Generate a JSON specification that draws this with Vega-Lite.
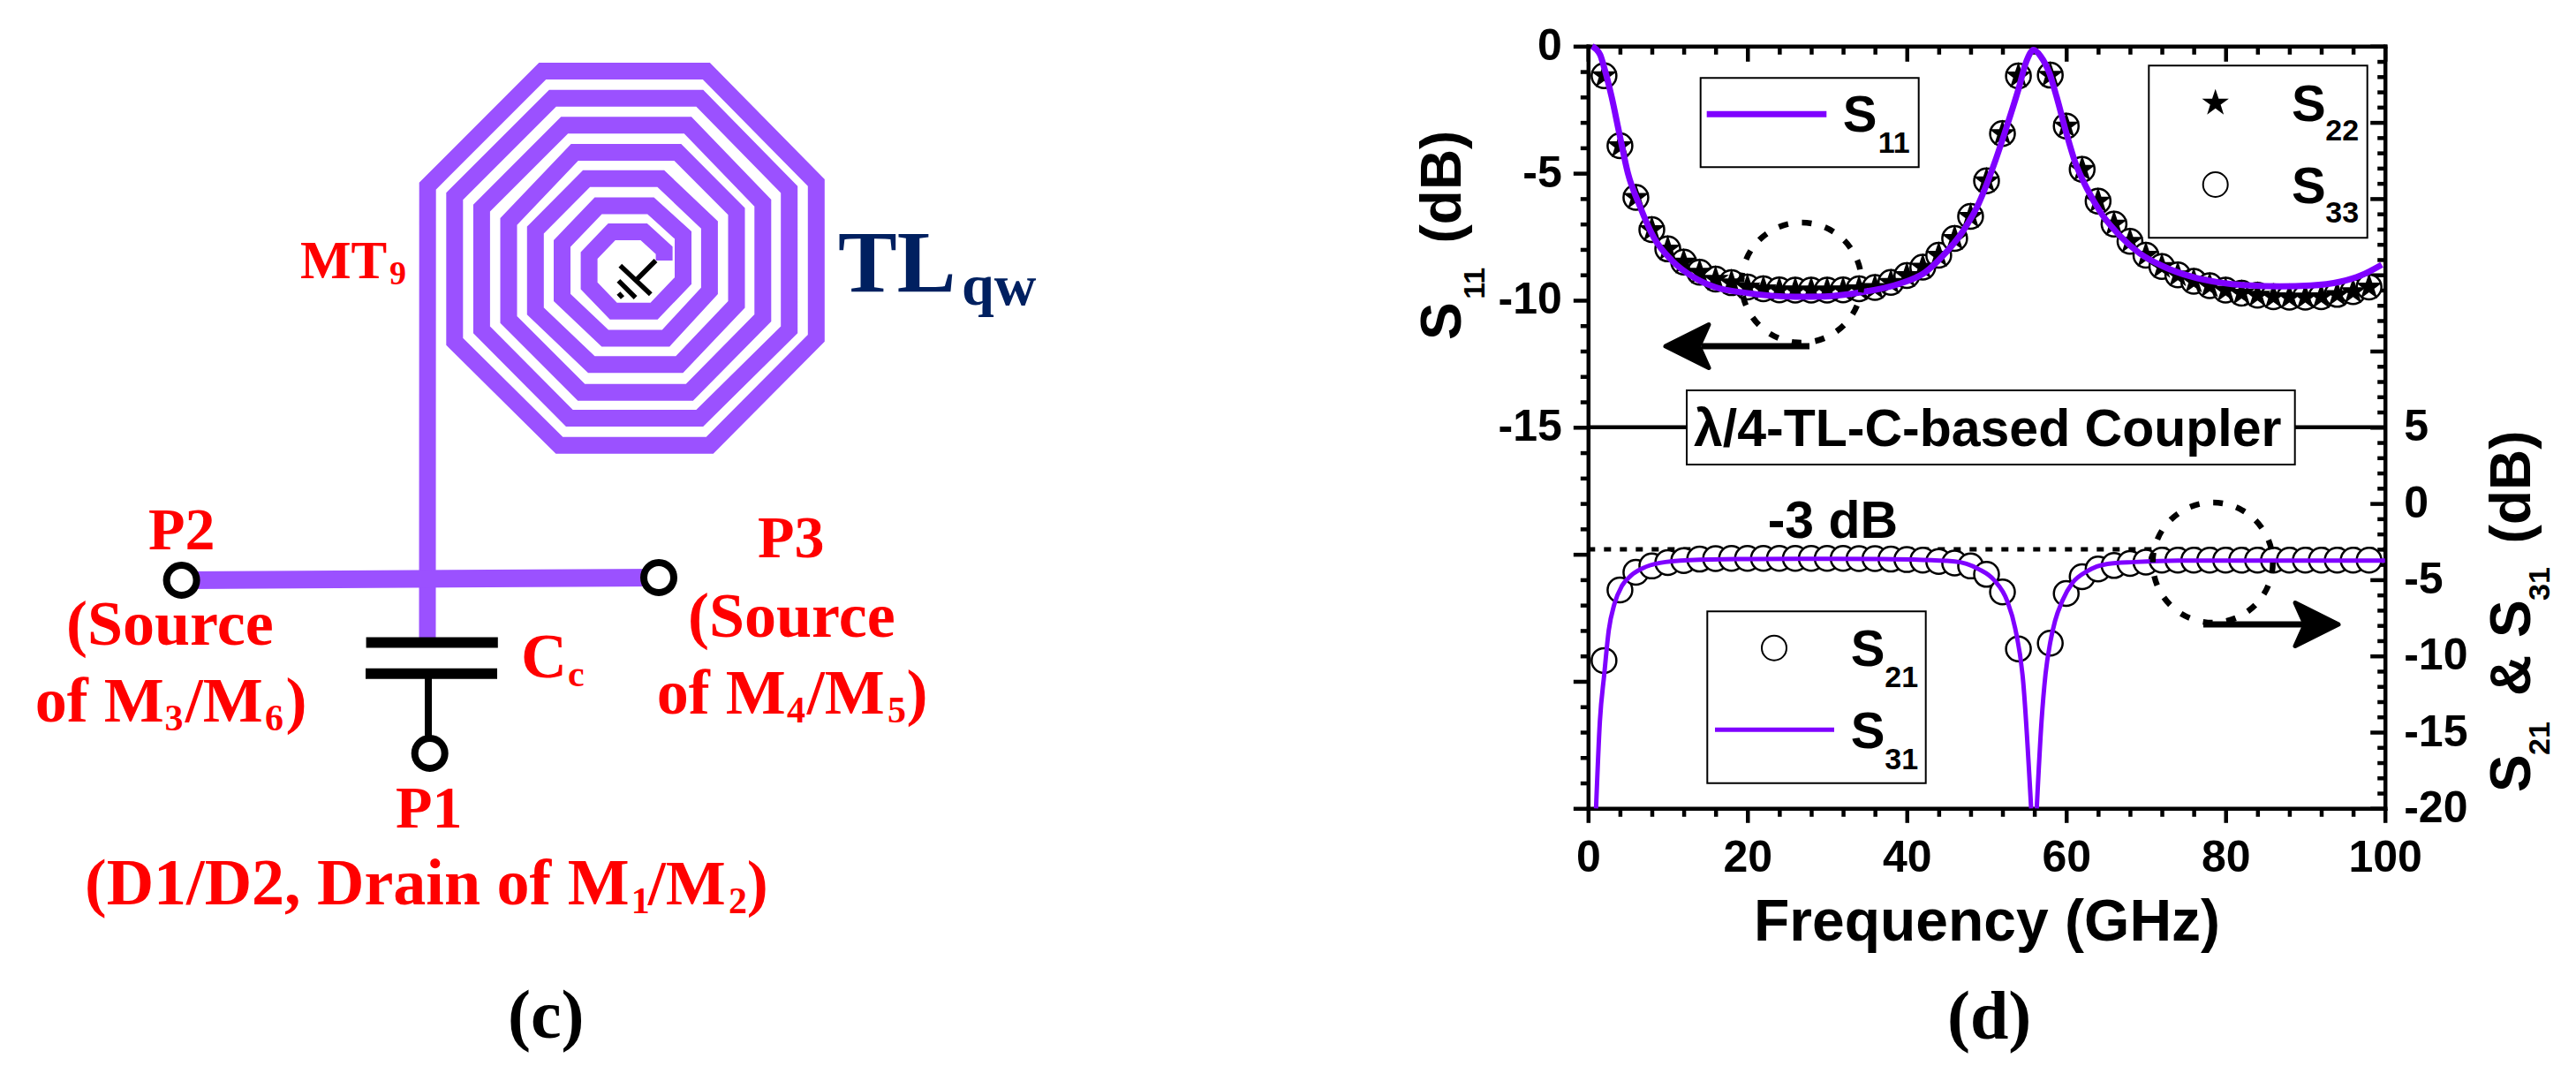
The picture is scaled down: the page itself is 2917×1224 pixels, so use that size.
{
  "$schema": "https://vega.github.io/schema/vega-lite/v6.json",
  "width": 2917,
  "height": 1224,
  "padding": 0,
  "autosize": {"type": "none"},
  "background": "white",
  "config": {
    "view": {"stroke": null},
    "axis": {
      "grid": false, "title": null, "domainColor": "black", "tickColor": "black", "domainWidth": 4.5, "tickWidth": 4.5,
      "domainCap": "square", "labelFont": "Liberation Sans", "labelFontWeight": "bold", "labelFontSize": 50, "labelColor": "black",
      "labelOverlap": false, "labelBound": false, "labelFlush": false, "tickRound": false,
      "titleFont": "Liberation Sans", "titleFontWeight": "bold", "titleFontSize": 66, "titleColor": "black"
    }
  },
  "datasets": {
    "frame": [{"f": 0, "left": 0, "right": 0}],
    "s11": [
      {"f": 0.5, "v": 0}, {"f": 1.5, "v": -0.33}, {"f": 2.03, "v": -0.85}, {"f": 2.96, "v": -2.0}, {"f": 3.9, "v": -3.4}, {"f": 5, "v": -5.0},
      {"f": 6.5, "v": -6.3}, {"f": 8.3, "v": -7.56}, {"f": 10.5, "v": -8.43}, {"f": 13.5, "v": -9.14}, {"f": 16, "v": -9.49}, {"f": 19.8, "v": -9.71},
      {"f": 26, "v": -9.86}, {"f": 29.7, "v": -9.85}, {"f": 34.2, "v": -9.69}, {"f": 39, "v": -9.36}, {"f": 42.3, "v": -8.9}, {"f": 44.5, "v": -8.26},
      {"f": 47, "v": -7.3}, {"f": 49, "v": -6.2}, {"f": 51, "v": -4.6}, {"f": 52.6, "v": -3.1}, {"f": 54, "v": -1.7}, {"f": 55, "v": -0.6}, {"f": 55.9, "v": -0.15},
      {"f": 56.8, "v": -0.4}, {"f": 57.9, "v": -1.07}, {"f": 58.8, "v": -2.0}, {"f": 60, "v": -3.4}, {"f": 61.1, "v": -4.55}, {"f": 62.6, "v": -5.6},
      {"f": 64.4, "v": -6.58}, {"f": 66.7, "v": -7.45}, {"f": 69.2, "v": -8.15}, {"f": 72.2, "v": -8.67}, {"f": 75.7, "v": -9.07}, {"f": 79.4, "v": -9.31},
      {"f": 83.1, "v": -9.42}, {"f": 86.8, "v": -9.45}, {"f": 90.7, "v": -9.42}, {"f": 94.4, "v": -9.27}, {"f": 97, "v": -9.02}, {"f": 99.6, "v": -8.6}
    ],
    "s22s33": [
      {"f": 2, "v": -1.16}, {"f": 4, "v": -3.92}, {"f": 6, "v": -5.95}, {"f": 8, "v": -7.22}, {"f": 10, "v": -7.98}, {"f": 12, "v": -8.5}, {"f": 14, "v": -8.9},
      {"f": 16, "v": -9.17}, {"f": 18, "v": -9.31}, {"f": 20, "v": -9.48}, {"f": 22, "v": -9.55}, {"f": 24, "v": -9.59}, {"f": 26, "v": -9.6}, {"f": 28, "v": -9.6},
      {"f": 30, "v": -9.6}, {"f": 32, "v": -9.59}, {"f": 34, "v": -9.55}, {"f": 36, "v": -9.5}, {"f": 38, "v": -9.3}, {"f": 40, "v": -9.03}, {"f": 42, "v": -8.7},
      {"f": 44, "v": -8.23}, {"f": 46, "v": -7.57}, {"f": 48, "v": -6.7}, {"f": 50, "v": -5.3}, {"f": 52, "v": -3.44}, {"f": 54, "v": -1.17},
      {"f": 58, "v": -1.14}, {"f": 60, "v": -3.14}, {"f": 62, "v": -4.85}, {"f": 64, "v": -6.1}, {"f": 66, "v": -7.0}, {"f": 68, "v": -7.68}, {"f": 70, "v": -8.23},
      {"f": 72, "v": -8.67}, {"f": 74, "v": -9.0}, {"f": 76, "v": -9.25}, {"f": 78, "v": -9.43}, {"f": 80, "v": -9.6}, {"f": 82, "v": -9.72}, {"f": 84, "v": -9.8},
      {"f": 86, "v": -9.86}, {"f": 88, "v": -9.88}, {"f": 90, "v": -9.88}, {"f": 92, "v": -9.86}, {"f": 94, "v": -9.77}, {"f": 96, "v": -9.66}, {"f": 98, "v": -9.48}
    ],
    "s21": [
      {"f": 2, "v": -10.3}, {"f": 4, "v": -5.67}, {"f": 6, "v": -4.51}, {"f": 8, "v": -4.1}, {"f": 10, "v": -3.88}, {"f": 12, "v": -3.74}, {"f": 14, "v": -3.65},
      {"f": 16, "v": -3.62}, {"f": 18, "v": -3.6}, {"f": 20, "v": -3.6}, {"f": 22, "v": -3.6}, {"f": 24, "v": -3.6}, {"f": 26, "v": -3.6}, {"f": 28, "v": -3.6},
      {"f": 30, "v": -3.6}, {"f": 32, "v": -3.6}, {"f": 34, "v": -3.62}, {"f": 36, "v": -3.62}, {"f": 38, "v": -3.65}, {"f": 40, "v": -3.68}, {"f": 42, "v": -3.72},
      {"f": 44, "v": -3.8}, {"f": 46, "v": -3.9}, {"f": 48, "v": -4.1}, {"f": 50, "v": -4.65}, {"f": 52, "v": -5.8}, {"f": 54, "v": -9.54},
      {"f": 58, "v": -9.16}, {"f": 60, "v": -5.9}, {"f": 62, "v": -4.8}, {"f": 64, "v": -4.3}, {"f": 66, "v": -4.07}, {"f": 68, "v": -3.93}, {"f": 70, "v": -3.84},
      {"f": 72, "v": -3.72}, {"f": 74, "v": -3.72}, {"f": 76, "v": -3.72}, {"f": 78, "v": -3.72}, {"f": 80, "v": -3.72}, {"f": 82, "v": -3.72}, {"f": 84, "v": -3.72},
      {"f": 86, "v": -3.72}, {"f": 88, "v": -3.72}, {"f": 90, "v": -3.72}, {"f": 92, "v": -3.72}, {"f": 94, "v": -3.72}, {"f": 96, "v": -3.72}, {"f": 98, "v": -3.72}
    ],
    "s31": [
      {"f": 1, "v": -20}, {"f": 1.48, "v": -14.3}, {"f": 2.03, "v": -11.2}, {"f": 2.6, "v": -8.3}, {"f": 3.3, "v": -6.6}, {"f": 4.25, "v": -5.4}, {"f": 5.36, "v": -4.74},
      {"f": 6.84, "v": -4.25}, {"f": 9, "v": -3.9}, {"f": 12.7, "v": -3.72}, {"f": 18.7, "v": -3.65}, {"f": 30, "v": -3.63}, {"f": 37, "v": -3.65}, {"f": 46, "v": -3.8},
      {"f": 49, "v": -4.3}, {"f": 51, "v": -5.05}, {"f": 52.6, "v": -6.4}, {"f": 53.6, "v": -8.2}, {"f": 54.6, "v": -11.7}, {"f": 55.6, "v": -20}, {"f": 55.61, "v": null},
      {"f": 56.3, "v": -20}, {"f": 56.9, "v": -14.3}, {"f": 57.4, "v": -11.2}, {"f": 58, "v": -9.1}, {"f": 58.6, "v": -7.7}, {"f": 59.5, "v": -6.4}, {"f": 60.8, "v": -5.2},
      {"f": 62.6, "v": -4.45}, {"f": 65.2, "v": -3.96}, {"f": 68.5, "v": -3.84}, {"f": 74, "v": -3.74}, {"f": 100, "v": -3.74}
    ],
    "spiral": [
      {"n": 1, "px": 484, "py": 727}, {"n": 2, "px": 484.2, "py": 210.7}, {"n": 3, "px": 614.3, "py": 80.6}, {"n": 4, "px": 799.9, "py": 80.6}, {"n": 5, "px": 924.3, "py": 206.9},
      {"n": 6, "px": 924.3, "py": 382.9}, {"n": 7, "px": 803.7, "py": 504.3}, {"n": 8, "px": 633.4, "py": 504.3}, {"n": 9, "px": 514.8, "py": 386.8}, {"n": 10, "px": 514.8, "py": 222.2},
      {"n": 11, "px": 625.8, "py": 111.2}, {"n": 12, "px": 792.3, "py": 111.2}, {"n": 13, "px": 893.7, "py": 214.6}, {"n": 14, "px": 893.7, "py": 373.4}, {"n": 15, "px": 792.3, "py": 473.6},
      {"n": 16, "px": 644.9, "py": 473.6}, {"n": 17, "px": 545.4, "py": 373.4}, {"n": 18, "px": 545.4, "py": 235.6}, {"n": 19, "px": 639.2, "py": 141.8}, {"n": 20, "px": 778.9, "py": 141.8},
      {"n": 21, "px": 863.8, "py": 229.9}, {"n": 22, "px": 863.8, "py": 360}, {"n": 23, "px": 780.8, "py": 444.2}, {"n": 24, "px": 658.3, "py": 444.2}, {"n": 25, "px": 576, "py": 361.9},
      {"n": 26, "px": 576, "py": 250.9}, {"n": 27, "px": 650.7, "py": 172.5}, {"n": 28, "px": 767.4, "py": 172.5}, {"n": 29, "px": 834, "py": 239.4}, {"n": 30, "px": 834, "py": 344.7},
      {"n": 31, "px": 769.3, "py": 412.8}, {"n": 32, "px": 669.8, "py": 412.8}, {"n": 33, "px": 606.3, "py": 352.3}, {"n": 34, "px": 606.3, "py": 260.5}, {"n": 35, "px": 664.1, "py": 202.3},
      {"n": 36, "px": 748.3, "py": 202.3}, {"n": 37, "px": 803.4, "py": 254.7}, {"n": 38, "px": 803.4, "py": 329.4}, {"n": 39, "px": 754, "py": 382.9}, {"n": 40, "px": 685.1, "py": 382.9},
      {"n": 41, "px": 636.5, "py": 337}, {"n": 42, "px": 636.5, "py": 275.8}, {"n": 43, "px": 677.5, "py": 232.9}, {"n": 44, "px": 736.8, "py": 232.9}, {"n": 45, "px": 773.5, "py": 266.2},
      {"n": 46, "px": 773.5, "py": 317.9}, {"n": 47, "px": 740.6, "py": 352.3}, {"n": 48, "px": 694.7, "py": 352.3}, {"n": 49, "px": 667.1, "py": 323.6}, {"n": 50, "px": 667.1, "py": 289.2},
      {"n": 51, "px": 692.8, "py": 262.4}, {"n": 52, "px": 729.1, "py": 262.4}, {"n": 53, "px": 752.1, "py": 283.4}, {"n": 54, "px": 752.1, "py": 295}
    ]
  },
  "data": {"name": "frame"},
  "layer": [
    {
      "mark": {"type": "point", "opacity": 0},
      "encoding": {
        "x": {"field": "f", "type": "quantitative", "scale": {"domain": [0, 100], "range": [1798.3, 2700.7]},
          "axis": {"orient": "bottom", "offset": -308.7, "values": [0, 20, 40, 60, 80, 100], "tickSize": 16, "labelPadding": 15, "title": "Frequency (GHz)", "titlePadding": 16}},
        "y": {"field": "left", "type": "quantitative", "scale": {"domain": [-30, 0], "range": [915.3, 52.3]},
          "axis": {"orient": "left", "offset": -1798.3, "values": [0, -5, -10, -15, -20, -25, -30], "tickSize": 17, "labelPadding": 13, "labelExpr": "datum.value >= -15 ? '' + datum.value : ''"}}
      }
    },
    {
      "mark": {"type": "point", "opacity": 0},
      "encoding": {
        "x": {"field": "f", "type": "quantitative", "scale": {"domain": [0, 100], "range": [1798.3, 2700.7]},
          "axis": {"orient": "top", "offset": -52.3, "values": [0, 20, 40, 60, 80, 100], "tickSize": -17, "labels": false}},
        "y": {"field": "left", "type": "quantitative", "scale": {"domain": [-30, 0], "range": [915.3, 52.3]},
          "axis": {"orient": "left", "offset": -1798.3, "domain": false, "labels": false, "tickSize": 9,
            "values": [-1, -2, -3, -4, -6, -7, -8, -9, -11, -12, -13, -14, -16, -17, -18, -19, -21, -22, -23, -24, -26, -27, -28, -29]}}
      }
    },
    {
      "mark": {"type": "point", "opacity": 0},
      "encoding": {
        "x": {"field": "f", "type": "quantitative", "scale": {"domain": [0, 100], "range": [1798.3, 2700.7]},
          "axis": {"orient": "bottom", "offset": -308.7, "domain": false, "labels": false, "tickSize": 9,
            "values": [4, 8, 12, 16, 24, 28, 32, 36, 44, 48, 52, 56, 64, 68, 72, 76, 84, 88, 92, 96]}},
        "y": {"field": "right", "type": "quantitative", "scale": {"domain": [-20, 30], "range": [915.3, 52.3]},
          "axis": {"orient": "right", "offset": -216.3, "values": [-20, -15, -10, -5, 0, 5, 10, 15, 20, 25, 30], "tickSize": -17, "labelPadding": 38, "labelExpr": "datum.value <= 5 ? '' + datum.value : ''"}}
      }
    },
    {
      "mark": {"type": "point", "opacity": 0},
      "encoding": {
        "x": {"field": "f", "type": "quantitative", "scale": {"domain": [0, 100], "range": [1798.3, 2700.7]},
          "axis": {"orient": "top", "offset": -52.3, "domain": false, "labels": false, "tickSize": -9,
            "values": [4, 8, 12, 16, 24, 28, 32, 36, 44, 48, 52, 56, 64, 68, 72, 76, 84, 88, 92, 96]}},
        "y": {"field": "right", "type": "quantitative", "scale": {"domain": [-20, 30], "range": [915.3, 52.3]},
          "axis": {"orient": "right", "offset": -216.3, "domain": false, "labels": false, "tickSize": -9,
            "values": [-19, -18, -17, -16, -14, -13, -12, -11, -9, -8, -7, -6, -4, -3, -2, -1, 1, 2, 3, 4, 6, 7, 8, 9, 11, 12, 13, 14, 16, 17, 18, 19, 21, 22, 23, 24, 26, 27, 28, 29]}}
      }
    },
    {
      "encoding": {
        "x": {"field": "f", "type": "quantitative", "scale": {"domain": [0, 100], "range": [1798.3, 2700.7]}, "axis": null},
        "y": {"field": "v", "type": "quantitative", "scale": {"domain": [-30, 0], "range": [915.3, 52.3]}, "axis": null}
      },
      "layer": [
        {"data": {"values": [{"f": 0, "v": -15}, {"f": 100, "v": -15}]}, "mark": {"type": "line", "color": "black", "strokeWidth": 4.5}},
        {"data": {"name": "s22s33"}, "mark": {"type": "point", "shape": "circle", "size": 784, "filled": false, "fill": "white", "fillOpacity": 1, "stroke": "black", "strokeWidth": 2.5, "opacity": 1}},
        {"data": {"name": "s22s33"}, "mark": {"type": "point", "shape": "M0,-1L0.23,-0.31L0.95,-0.31L0.37,0.12L0.59,0.81L0,0.38L-0.59,0.81L-0.37,0.12L-0.95,-0.31L-0.23,-0.31Z", "size": 1024, "filled": true, "color": "black", "opacity": 1}},
        {"data": {"name": "s11"}, "mark": {"type": "line", "color": "#7f00ff", "strokeWidth": 7, "interpolate": "monotone"}}
      ]
    },
    {
      "encoding": {
        "x": {"field": "f", "type": "quantitative", "scale": {"domain": [0, 100], "range": [1798.3, 2700.7]}, "axis": null},
        "y": {"field": "v", "type": "quantitative", "scale": {"domain": [-20, 30], "range": [915.3, 52.3]}, "axis": null}
      },
      "layer": [
        {"data": {"values": [{"f": 0, "v": -3}, {"f": 100, "v": -3}]}, "mark": {"type": "line", "color": "black", "strokeWidth": 5, "strokeDash": [8, 10]}},
        {"data": {"name": "s21"}, "mark": {"type": "point", "shape": "circle", "size": 784, "filled": false, "fill": "white", "fillOpacity": 1, "stroke": "black", "strokeWidth": 2.5, "opacity": 1}},
        {"data": {"name": "s31"}, "mark": {"type": "line", "color": "#7f00ff", "strokeWidth": 5, "interpolate": "monotone"}}
      ]
    },
    {
      "encoding": {
        "x": {"field": "px", "type": "quantitative", "scale": {"domain": [0, 2917], "range": [0, 2917]}, "axis": null},
        "y": {"field": "py", "type": "quantitative", "scale": {"domain": [0, 1224], "range": [0, 1224]}, "axis": null},
        "x2": {"field": "px2"},
        "y2": {"field": "py2"},
        "text": {"field": "label"}
      },
      "layer": [
        {"data": {"name": "spiral"}, "mark": {"type": "line", "color": "#9b51ff", "strokeWidth": 19, "strokeJoin": "miter", "strokeMiterLimit": 10},
          "encoding": {"x2": null, "y2": null, "text": null, "order": {"field": "n"}}},
        {"data": {"values": [{"px": 205.6, "py": 657, "px2": 746, "py2": 654}]}, "mark": {"type": "rule", "color": "#9b51ff", "strokeWidth": 20}},
        {"data": {"values": [{"px": 414.6, "py": 727.5, "px2": 563.8, "py2": 727.5}, {"px": 414, "py": 762.7, "px2": 563, "py2": 762.7}]}, "mark": {"type": "rule", "color": "black", "strokeWidth": 12}},
        {"data": {"values": [{"px": 485, "py": 762, "px2": 485, "py2": 835}]}, "mark": {"type": "rule", "color": "black", "strokeWidth": 8}},
        {"data": {"values": [{"px": 702.3, "py": 300.7, "px2": 736.8, "py2": 333.2}, {"px": 721.5, "py": 316, "px2": 742.5, "py2": 295}, {"px": 700.4, "py": 317.9, "px2": 719.6, "py2": 337}, {"px": 700.4, "py": 332, "px2": 705, "py2": 337}]}, "mark": {"type": "rule", "color": "black", "strokeWidth": 5.5}},
        {"data": {"values": [{"px": 205.6, "py": 657}, {"px": 746, "py": 654}, {"px": 486.7, "py": 853}]}, "mark": {"type": "point", "shape": "circle", "size": 1156, "filled": false, "fill": "white", "fillOpacity": 1, "stroke": "black", "strokeWidth": 8, "opacity": 1},
          "encoding": {"x2": null, "y2": null, "text": null}},
        {"data": {"values": [{"px": 2040, "py": 320}, {"px": 2505.7, "py": 637}]}, "mark": {"type": "point", "shape": "circle", "size": 18496, "filled": false, "stroke": "black", "strokeWidth": 6.5, "strokeDash": [11, 15.7], "opacity": 1},
          "encoding": {"x2": null, "y2": null, "text": null}},
        {"data": {"values": [{"px": 1927, "py": 392, "px2": 2049, "py2": 392}, {"px": 2495, "py": 707, "px2": 2608, "py2": 707}]}, "mark": {"type": "rule", "color": "black", "strokeWidth": 7}},
        {"data": {"values": [{"px": 1910.5, "py": 392}]}, "mark": {"type": "point", "shape": "M-1,0L1,-1L0.55,0L1,1Z", "size": 2400, "filled": true, "color": "black", "stroke": "black", "strokeWidth": 5, "strokeJoin": "round", "opacity": 1},
          "encoding": {"x2": null, "y2": null, "text": null}},
        {"data": {"values": [{"px": 2623.5, "py": 707}]}, "mark": {"type": "point", "shape": "M1,0L-1,-1L-0.55,0L-1,1Z", "size": 2400, "filled": true, "color": "black", "stroke": "black", "strokeWidth": 5, "strokeJoin": "round", "opacity": 1},
          "encoding": {"x2": null, "y2": null, "text": null}},
        {"data": {"values": [
            {"px": 1910, "py": 442, "px2": 2598.7, "py2": 526},
            {"px": 1925.7, "py": 88.3, "px2": 2172.7, "py2": 189.3},
            {"px": 2433.3, "py": 74.3, "px2": 2680.7, "py2": 269.3},
            {"px": 1933.3, "py": 692.3, "px2": 2180.7, "py2": 886.7}]},
          "mark": {"type": "rect", "fill": "white", "stroke": "black", "strokeWidth": 2}, "encoding": {"text": null}},
        {"data": {"values": [{"px": 1932.7, "py": 129.3, "px2": 2068.3, "py2": 129.3}]}, "mark": {"type": "rule", "color": "#7f00ff", "strokeWidth": 7}},
        {"data": {"values": [{"px": 1942, "py": 826.3, "px2": 2077, "py2": 826.3}]}, "mark": {"type": "rule", "color": "#7f00ff", "strokeWidth": 5}},
        {"data": {"values": [{"px": 2508.7, "py": 209}, {"px": 2009, "py": 733.7}]}, "mark": {"type": "point", "shape": "circle", "size": 784, "filled": false, "stroke": "black", "strokeWidth": 2, "opacity": 1},
          "encoding": {"x2": null, "y2": null, "text": null}},
        {"data": {"values": [{"px": 2508.7, "py": 116.7}]}, "mark": {"type": "point", "shape": "M0,-1L0.23,-0.31L0.95,-0.31L0.37,0.12L0.59,0.81L0,0.38L-0.59,0.81L-0.37,0.12L-0.95,-0.31L-0.23,-0.31Z", "size": 1024, "filled": true, "color": "black", "opacity": 1},
          "encoding": {"x2": null, "y2": null, "text": null}},
        {"data": {"values": [
            {"px": 2086.7, "py": 149, "label": "S"}, {"px": 2595, "py": 136.7, "label": "S"}, {"px": 2595, "py": 230, "label": "S"},
            {"px": 2095.7, "py": 754, "label": "S"}, {"px": 2095.7, "py": 846.7, "label": "S"}]},
          "mark": {"type": "text", "font": "Liberation Sans", "fontWeight": "bold", "fontSize": 58, "align": "left", "baseline": "alphabetic", "color": "black"}, "encoding": {"x2": null, "y2": null}},
        {"data": {"values": [
            {"px": 2126.7, "py": 173.3, "label": "11"}, {"px": 2633.3, "py": 159.3, "label": "22"}, {"px": 2633.3, "py": 252.3, "label": "33"},
            {"px": 2134.3, "py": 777.7, "label": "21"}, {"px": 2134.3, "py": 870.7, "label": "31"}]},
          "mark": {"type": "text", "font": "Liberation Sans", "fontWeight": "bold", "fontSize": 34, "align": "left", "baseline": "alphabetic", "color": "black"}, "encoding": {"x2": null, "y2": null}},
        {"data": {"values": [{"px": 1918, "py": 505, "label": "λ/4-TL-C-based Coupler"}, {"px": 2001.7, "py": 609, "label": "-3 dB"}]},
          "mark": {"type": "text", "font": "Liberation Sans", "fontWeight": "bold", "fontSize": 59, "align": "left", "baseline": "alphabetic", "color": "black"}, "encoding": {"x2": null, "y2": null}},
        {"data": {"values": [
            {"px": 1654, "py": 385, "label": "S"}, {"px": 1654, "py": 275.5, "label": "(dB)"},
            {"px": 2865, "py": 897, "label": "S"}, {"px": 2865, "py": 788, "label": "&"}, {"px": 2865, "py": 722, "label": "S"}, {"px": 2865, "py": 615.4, "label": "(dB)"}]},
          "mark": {"type": "text", "font": "Liberation Sans", "fontWeight": "bold", "fontSize": 64, "align": "left", "baseline": "alphabetic", "angle": 270, "color": "black"}, "encoding": {"x2": null, "y2": null}},
        {"data": {"values": [{"px": 1680.7, "py": 338.7, "label": "11"}, {"px": 2887, "py": 855, "label": "21"}, {"px": 2887, "py": 680, "label": "31"}]},
          "mark": {"type": "text", "font": "Liberation Sans", "fontWeight": "bold", "fontSize": 34, "align": "left", "baseline": "alphabetic", "angle": 270, "color": "black"}, "encoding": {"x2": null, "y2": null}},
        {"data": {"values": [
            {"px": 168, "py": 622, "label": "P2"}, {"px": 858, "py": 631, "label": "P3"}, {"px": 448, "py": 937, "label": "P1"}]},
          "mark": {"type": "text", "font": "Liberation Serif", "fontWeight": "bold", "fontSize": 68, "align": "left", "baseline": "alphabetic", "color": "#ff0000"}, "encoding": {"x2": null, "y2": null}},
        {"data": {"values": [
            {"px": 75, "py": 730, "label": "(Source"}, {"px": 39.8, "py": 817, "label": "of M"}, {"px": 209.8, "py": 817, "label": "/M"}, {"px": 323.4, "py": 817, "label": ")"},
            {"px": 779, "py": 720.5, "label": "(Source"}, {"px": 743.8, "py": 808, "label": "of M"}, {"px": 913.8, "py": 808, "label": "/M"}, {"px": 1026.5, "py": 808, "label": ")"},
            {"px": 733.8, "py": 1024, "label": "/M"}, {"px": 845.8, "py": 1024, "label": ")"},
            {"px": 590, "py": 767, "label": "C"}]},
          "mark": {"type": "text", "font": "Liberation Serif", "fontWeight": "bold", "fontSize": 72, "align": "left", "baseline": "alphabetic", "color": "#ff0000"}, "encoding": {"x2": null, "y2": null}},
        {"data": {"values": [{"px": 96, "py": 1024, "label": "(D1/D2, Drain of M"}]},
          "mark": {"type": "text", "font": "Liberation Serif", "fontWeight": "bold", "fontSize": 74, "align": "left", "baseline": "alphabetic", "color": "#ff0000"}, "encoding": {"x2": null, "y2": null}},
        {"data": {"values": [
            {"px": 186.6, "py": 827, "label": "3"}, {"px": 300, "py": 827, "label": "6"}, {"px": 891, "py": 818, "label": "4"}, {"px": 1005, "py": 818, "label": "5"},
            {"px": 714.8, "py": 1034, "label": "1"}, {"px": 825, "py": 1034, "label": "2"}, {"px": 643, "py": 777, "label": "c"}]},
          "mark": {"type": "text", "font": "Liberation Serif", "fontWeight": "bold", "fontSize": 42, "align": "left", "baseline": "alphabetic", "color": "#ff0000"}, "encoding": {"x2": null, "y2": null}},
        {"data": {"values": [{"px": 340, "py": 315, "label": "MT"}]},
          "mark": {"type": "text", "font": "Liberation Serif", "fontWeight": "bold", "fontSize": 61, "align": "left", "baseline": "alphabetic", "color": "#ff0000"}, "encoding": {"x2": null, "y2": null}},
        {"data": {"values": [{"px": 441, "py": 322, "label": "9"}]},
          "mark": {"type": "text", "font": "Liberation Serif", "fontWeight": "bold", "fontSize": 38, "align": "left", "baseline": "alphabetic", "color": "#ff0000"}, "encoding": {"x2": null, "y2": null}},
        {"data": {"values": [{"px": 949, "py": 330, "label": "TL"}]},
          "mark": {"type": "text", "font": "Liberation Serif", "fontWeight": "bold", "fontSize": 100, "align": "left", "baseline": "alphabetic", "color": "#002060"}, "encoding": {"x2": null, "y2": null}},
        {"data": {"values": [{"px": 1089, "py": 345, "label": "qw"}]},
          "mark": {"type": "text", "font": "Liberation Serif", "fontWeight": "bold", "fontSize": 66, "align": "left", "baseline": "alphabetic", "color": "#002060"}, "encoding": {"x2": null, "y2": null}},
        {"data": {"values": [{"px": 575, "py": 1175, "label": "(c)"}, {"px": 2205, "py": 1176, "label": "(d)"}]},
          "mark": {"type": "text", "font": "Liberation Serif", "fontWeight": "bold", "fontSize": 78, "align": "left", "baseline": "alphabetic", "color": "black"}, "encoding": {"x2": null, "y2": null}}
      ]
    }
  ],
  "resolve": {"scale": {"x": "independent", "y": "independent"}}
}
